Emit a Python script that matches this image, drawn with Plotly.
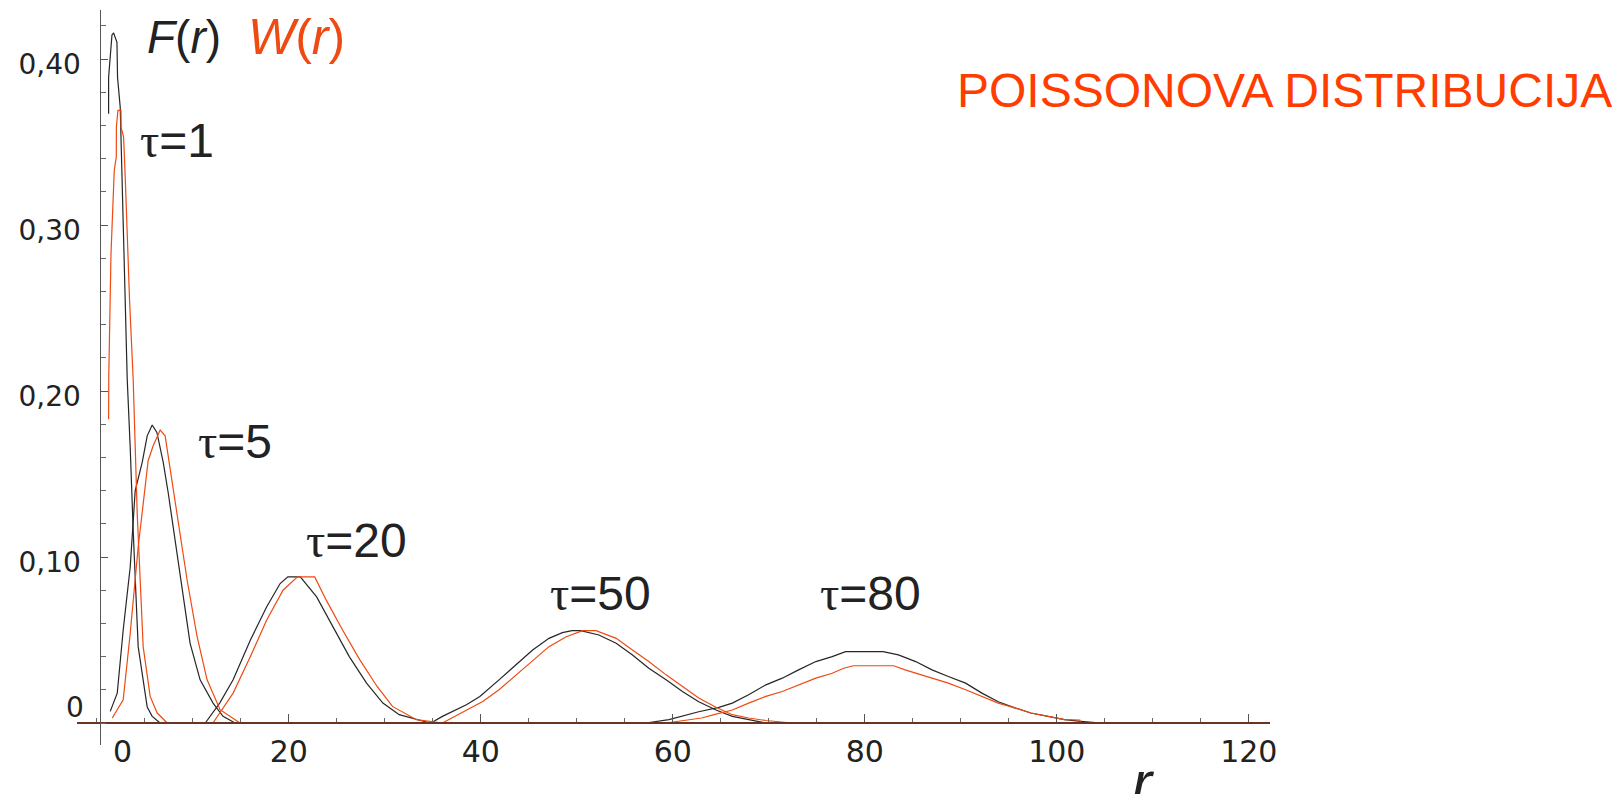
import plotly.graph_objects as go

# ---------------- data ----------------
# F(r) - black curves
r_F1 = [1.23, 1.23, 1.58, 1.75, 2.10, 2.16, 2.44, 2.62, 2.96, 3.17, 3.48, 3.79, 4.31, 5.25, 5.77, 6.60]
F1 = [0.367, 0.389, 0.4145, 0.4157, 0.41, 0.389, 0.371, 0.333, 0.255, 0.207, 0.166, 0.116, 0.046, 0.0096, 0.004, 0.0]

r_F5 = [1.40, 2.13, 2.75, 3.48, 4.00, 4.73, 5.25, 5.77, 6.26, 6.92, 7.43, 8.68, 9.72, 10.76, 12.11, 13.15, 14.40]
F5 = [0.007, 0.018, 0.056, 0.094, 0.140, 0.157, 0.173, 0.1795, 0.175, 0.157, 0.139, 0.088, 0.048, 0.026, 0.012, 0.004, 0.0]

r_F20 = [11.3, 12.8, 14.2, 16.0, 17.7, 19.1, 19.9, 21.2, 22.9, 24.6, 26.3, 28.1, 29.8, 31.5, 33.3, 34.7]
F20 = [0.0, 0.012, 0.026, 0.050, 0.070, 0.084, 0.088, 0.088, 0.076, 0.058, 0.040, 0.024, 0.012, 0.005, 0.002, 0.0]

r_F50 = [34.8, 36.0, 38.5, 39.9, 41.9, 43.7, 45.4, 47.1, 48.5, 49.5, 50.4, 52.3, 54.1, 55.8, 57.5, 59.3,
         61.0, 62.7, 64.5, 66.2, 67.9, 69.7]
F50 = [0.0, 0.004, 0.011, 0.016, 0.026, 0.035, 0.044, 0.051, 0.0544, 0.0556, 0.0556, 0.053, 0.048, 0.041,
       0.033, 0.026, 0.019, 0.0128, 0.0078, 0.004, 0.002, 0.0]

r_F80 = [57.2, 59.6, 62.7, 64.8, 66.2, 67.9, 69.7, 71.4, 73.1, 74.9, 76.6, 78.0, 81.9, 83.5, 85.3, 87.0,
         88.7, 90.5, 92.2, 93.9, 95.7, 97.3, 99.1, 100.8, 102.5, 104.6]
F80 = [0.0, 0.002, 0.0068, 0.0094, 0.012, 0.017, 0.023, 0.027, 0.032, 0.037, 0.040, 0.043, 0.043, 0.041,
       0.037, 0.032, 0.028, 0.024, 0.018, 0.0128, 0.009, 0.006, 0.004, 0.002, 0.001, 0.0]

# W(r) - orange curves
r_W1 = [1.23, 1.25, 1.48, 1.82, 2.03, 2.04, 2.20, 2.52, 2.53, 2.79, 2.96, 3.14, 3.41, 3.79, 4.00, 4.21,
        4.52, 4.83, 5.56, 6.29, 6.81, 7.33]
W1 = [0.183, 0.21, 0.283, 0.333, 0.341, 0.359, 0.369, 0.369, 0.359, 0.353, 0.329, 0.295, 0.255, 0.207,
      0.166, 0.126, 0.086, 0.046, 0.016, 0.006, 0.003, 0.0]

r_W5 = [1.61, 2.75, 3.48, 4.31, 5.35, 5.87, 6.60, 7.12, 7.30, 7.82, 8.37, 9.41, 10.45, 11.49, 12.84, 13.88, 14.92]
W5 = [0.003, 0.014, 0.054, 0.106, 0.158, 0.167, 0.1765, 0.173, 0.166, 0.146, 0.126, 0.086, 0.052, 0.026,
      0.008, 0.004, 0.0]

r_W20 = [12.1, 14.2, 16.0, 17.7, 19.4, 20.9, 22.7, 23.9, 25.6, 27.4, 29.2, 30.8, 33.3, 36.0]
W20 = [0.0, 0.018, 0.040, 0.062, 0.080, 0.088, 0.088, 0.074, 0.056, 0.038, 0.022, 0.010, 0.002, 0.0]

r_W50 = [36.0, 38.5, 40.2, 41.9, 43.7, 45.4, 47.1, 48.9, 50.6, 52.0, 54.1, 55.8, 57.5, 59.3, 61.0, 62.7,
         64.5, 66.2, 67.9, 69.7, 72.4]
W50 = [0.0, 0.008, 0.013, 0.020, 0.029, 0.038, 0.046, 0.052, 0.0556, 0.0556, 0.051, 0.044, 0.037, 0.029,
       0.022, 0.015, 0.0095, 0.005, 0.003, 0.0015, 0.0]

r_W80 = [59.3, 61.3, 63.0, 64.3, 66.2, 67.9, 69.7, 71.4, 73.1, 74.9, 76.6, 77.8, 78.8, 83.0, 84.2, 87.0,
         88.7, 90.5, 92.2, 93.9, 95.7, 97.3, 99.1, 100.8, 102.4, 102.5, 105.3]
W80 = [0.0, 0.0018, 0.003, 0.005, 0.0078, 0.012, 0.016, 0.019, 0.023, 0.027, 0.030, 0.033, 0.0345, 0.0345,
       0.032, 0.027, 0.024, 0.020, 0.016, 0.012, 0.009, 0.006, 0.004, 0.002, 0.0018, 0.0, 0.0]

tau_values = ["1", "5", "20", "50", "80"]

x_tickvals = [20, 40, 60, 80, 100, 120]
x_ticktext = ["20", "40", "60", "80", "100", "120"]
y_tickvals = [0.1, 0.2, 0.3, 0.4]
y_ticktext = ["0,10", "0,20", "0,30", "0,40"]

title_text = "POISSONOVA DISTRIBUCIJA"

# ---------------- figure ----------------
W_PX, H_PX = 1620, 794
OFF = 8  # default page body margin
BLACK = "#262626"
ORANGE = "#EE4A12"
TXT = "#222222"


def px(x):
    return (x - OFF) / W_PX


def py(y):
    return 1 - (y - OFF) / H_PX


fig = go.Figure()

black_sets = [(r_F1, F1), (r_F5, F5), (r_F20, F20), (r_F50, F50), (r_F80, F80)]
orange_sets = [(r_W1, W1), (r_W5, W5), (r_W20, W20), (r_W50, W50), (r_W80, W80)]

for xs, ys in black_sets:
    fig.add_trace(go.Scatter(x=xs, y=ys, mode="lines",
                             line=dict(color=BLACK, width=1.2), showlegend=False, hoverinfo="skip"))
for xs, ys in orange_sets:
    fig.add_trace(go.Scatter(x=xs, y=ys, mode="lines",
                             line=dict(color=ORANGE, width=1.2), showlegend=False, hoverinfo="skip"))

# plot area in (screen) pixels
X0, X1 = 77, 1270
Y0, Y1 = 10, 745
ZERO_X = 96.8
PX_PER_UNIT = 9.6
ZERO_Y = 723
PX_PER_01 = 166.0

x_range = [(X0 - ZERO_X) / PX_PER_UNIT, (X1 - ZERO_X) / PX_PER_UNIT]
y_range = [-(Y1 - ZERO_Y) / PX_PER_01 * 0.1, (ZERO_Y - Y0) / PX_PER_01 * 0.1]

yfont = dict(family="DejaVu Sans, sans-serif", size=28, color=TXT)
xfont = dict(family="DejaVu Sans, sans-serif", size=30, color=TXT)

fig.update_layout(
    width=W_PX, height=H_PX,
    margin=dict(l=0, r=0, t=0, b=0),
    paper_bgcolor="white", plot_bgcolor="white",
    template="none",
    showlegend=False,
    xaxis=dict(
        domain=[px(X0), px(X1)], range=x_range, anchor="free", position=py(ZERO_Y),
        showgrid=False, zeroline=False, automargin=False,
        showline=True, linecolor="#6a3322", linewidth=2,
        ticks="inside", ticklen=8, tickwidth=1, tickcolor="#555555",
        tickvals=x_tickvals, ticktext=x_ticktext, tickfont=xfont,
        ticklabelstandoff=2,
        minor=dict(dtick=5, tick0=0, ticks="inside", ticklen=4, tickcolor="#666666", showgrid=False),
    ),
    yaxis=dict(
        domain=[py(Y1), py(Y0)], range=y_range, anchor="free", position=px(99.5),
        showgrid=False, zeroline=False, automargin=False,
        showline=True, linecolor="#555555", linewidth=1,
        ticks="inside", ticklen=7, tickwidth=1, tickcolor="#555555",
        tickvals=y_tickvals, ticktext=y_ticktext, tickfont=yfont,
        ticklabelstandoff=13, ticklabelshift=5,
        minor=dict(dtick=0.02, tick0=0, ticks="inside", ticklen=5, tickcolor="#666666", showgrid=False),
    ),
)

annots = []
# zero labels (offset as in the reference)
annots.append(dict(x=px(75), y=py(707), text="0", font=yfont))
annots.append(dict(x=px(122.5), y=py(751), text="0", font=xfont))

# F(r)  W(r)
annots.append(dict(x=px(184), y=py(37), text="<i>F</i>(<i>r</i>)",
                   font=dict(family="Liberation Sans, Arial", size=46, color=TXT)))
annots.append(dict(x=px(296), y=py(37), text="<i>W</i>(<i>r</i>)",
                   font=dict(family="Liberation Sans, Arial", size=50, color=ORANGE)))

# tau labels
tau_pos = [(177, 140), (235, 441), (356, 540), (600, 593), (870, 593)]
for val, (tx, ty) in zip(tau_values, tau_pos):
    lab = "<span style='font-family:Liberation Serif'>τ</span>=" + val
    annots.append(dict(x=px(tx), y=py(ty), text=lab,
                       font=dict(family="Liberation Sans, Arial", size=48, color=TXT)))

# title
annots.append(dict(x=px(1284), y=py(90), text=title_text,
                   font=dict(family="Liberation Sans, Arial", size=48, color="#FF3D00")))

# axis title r
annots.append(dict(x=px(1143), y=py(782), text="<i>r</i>",
                   font=dict(family="Liberation Sans, Arial", size=60, color=TXT)))

for a in annots:
    a.update(xref="paper", yref="paper", showarrow=False, xanchor="center", yanchor="middle")
fig.update_layout(annotations=annots)

fig.write_html("out.html")
